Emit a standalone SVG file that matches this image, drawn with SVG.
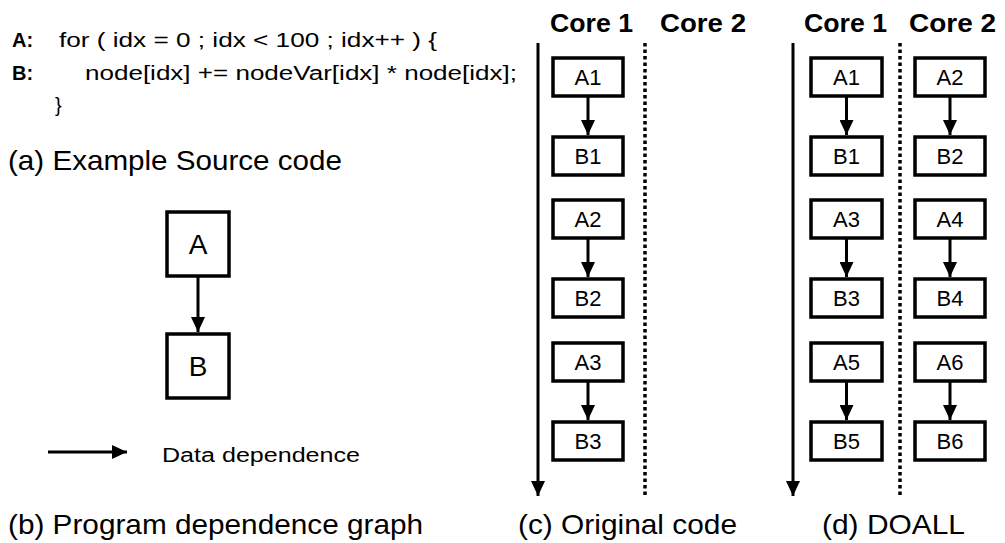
<svg xmlns="http://www.w3.org/2000/svg" width="1005" height="543" viewBox="0 0 1005 543">
<style>
  text { font-family: "Liberation Sans", Arial, sans-serif; fill: #000; }
  .code { font-size: 20px; }
  .lbl { font-weight: bold; font-size: 20px; }
  .cap { font-size: 28px; }
  .hdr { font-size: 26px; font-weight: bold; }
  .box { fill: #fff; stroke: #000; stroke-width: 3.5; }
  .bt { font-size: 22px; text-anchor: middle; }
  .big { font-size: 28px; text-anchor: middle; }
  .edge { stroke: #000; stroke-width: 3; fill: none; }
  .dot { stroke: #000; stroke-width: 3.5; stroke-dasharray: 3.5 3; fill: none; }
</style>
<defs>
  <marker id="ah" viewBox="0 0 15 14" refX="15" refY="7" markerWidth="15" markerHeight="14" orient="auto" markerUnits="userSpaceOnUse">
    <path d="M0,0 L15,7 L0,14 z" fill="#000"/>
  </marker>
</defs>
<rect width="1005" height="543" fill="#fff"/>

<g id="source-code">
  <text class="lbl" x="12" y="47">A:</text>
  <text class="code" x="59" y="47" textLength="378" lengthAdjust="spacingAndGlyphs">for ( idx = 0 ; idx &lt; 100 ; idx++ ) {</text>
  <text class="lbl" x="12" y="80">B:</text>
  <text class="code" x="85" y="80" textLength="432" lengthAdjust="spacingAndGlyphs">node[idx] += nodeVar[idx] * node[idx];</text>
  <text class="code" x="55" y="112">}</text>
  <text class="cap" x="8" y="170" textLength="334" lengthAdjust="spacingAndGlyphs">(a) Example Source code</text>
</g>

<g id="pdg-A">
  <rect class="box" x="167" y="212" width="62" height="64"/>
  <text class="big" x="198" y="254">A</text>
</g>
<g id="pdg-B">
  <rect class="box" x="167" y="334" width="62" height="64"/>
  <text class="big" x="198" y="376">B</text>
</g>
<g id="legend">
  <line class="edge" x1="48" y1="452" x2="127" y2="452" marker-end="url(#ah)"/>
  <text class="code" x="162" y="462" font-size="22" textLength="198" lengthAdjust="spacingAndGlyphs">Data dependence</text>
</g>
<text class="cap" x="8" y="534" textLength="415" lengthAdjust="spacingAndGlyphs">(b) Program dependence graph</text>

<!-- (c) Original code -->
<text class="hdr" x="550" y="32" textLength="83" lengthAdjust="spacingAndGlyphs">Core 1</text>
<text class="hdr" x="660" y="32" textLength="86" lengthAdjust="spacingAndGlyphs">Core 2</text>
<g id="c-A1"><rect class="box" x="553" y="58" width="70" height="38"/><text class="bt" x="588" y="85">A1</text></g>
<g id="c-B1"><rect class="box" x="553" y="137" width="70" height="38"/><text class="bt" x="588" y="164">B1</text></g>
<g id="c-A2"><rect class="box" x="553" y="200" width="70" height="38"/><text class="bt" x="588" y="227">A2</text></g>
<g id="c-B2"><rect class="box" x="553" y="279" width="70" height="38"/><text class="bt" x="588" y="306">B2</text></g>
<g id="c-A3"><rect class="box" x="553" y="343" width="70" height="38"/><text class="bt" x="588" y="370">A3</text></g>
<g id="c-B3"><rect class="box" x="553" y="422" width="70" height="38"/><text class="bt" x="588" y="449">B3</text></g>
<text class="cap" x="518" y="534" textLength="219" lengthAdjust="spacingAndGlyphs">(c) Original code</text>

<!-- (d) DOALL -->
<text class="hdr" x="804" y="32" textLength="83" lengthAdjust="spacingAndGlyphs">Core 1</text>
<text class="hdr" x="909" y="32" textLength="87" lengthAdjust="spacingAndGlyphs">Core 2</text>
<g id="d-A1"><rect class="box" x="811" y="58" width="71" height="38"/><text class="bt" x="846.5" y="85">A1</text></g>
<g id="d-B1"><rect class="box" x="811" y="137" width="71" height="38"/><text class="bt" x="846.5" y="164">B1</text></g>
<g id="d-A3"><rect class="box" x="811" y="200" width="71" height="38"/><text class="bt" x="846.5" y="227">A3</text></g>
<g id="d-B3"><rect class="box" x="811" y="279" width="71" height="38"/><text class="bt" x="846.5" y="306">B3</text></g>
<g id="d-A5"><rect class="box" x="811" y="343" width="71" height="38"/><text class="bt" x="846.5" y="370">A5</text></g>
<g id="d-B5"><rect class="box" x="811" y="422" width="71" height="38"/><text class="bt" x="846.5" y="449">B5</text></g>
<g id="d-A2"><rect class="box" x="915" y="58" width="70" height="38"/><text class="bt" x="950" y="85">A2</text></g>
<g id="d-B2"><rect class="box" x="915" y="137" width="70" height="38"/><text class="bt" x="950" y="164">B2</text></g>
<g id="d-A4"><rect class="box" x="915" y="200" width="70" height="38"/><text class="bt" x="950" y="227">A4</text></g>
<g id="d-B4"><rect class="box" x="915" y="279" width="70" height="38"/><text class="bt" x="950" y="306">B4</text></g>
<g id="d-A6"><rect class="box" x="915" y="343" width="70" height="38"/><text class="bt" x="950" y="370">A6</text></g>
<g id="d-B6"><rect class="box" x="915" y="422" width="70" height="38"/><text class="bt" x="950" y="449">B6</text></g>
<text class="cap" x="822" y="534" textLength="143" lengthAdjust="spacingAndGlyphs">(d) DOALL</text>

<g id="connectors">
  <line class="edge" x1="198" y1="277" x2="198" y2="332" marker-end="url(#ah)"/>
  <line class="edge" x1="538" y1="43" x2="538" y2="496" marker-end="url(#ah)"/>
  <line class="dot" x1="645" y1="43" x2="645" y2="496"/>
  <line class="edge" x1="588" y1="97" x2="588" y2="135" marker-end="url(#ah)"/>
  <line class="edge" x1="588" y1="239" x2="588" y2="277" marker-end="url(#ah)"/>
  <line class="edge" x1="588" y1="382" x2="588" y2="420" marker-end="url(#ah)"/>
  <line class="edge" x1="793" y1="43" x2="793" y2="496" marker-end="url(#ah)"/>
  <line class="dot" x1="900" y1="43" x2="900" y2="496"/>
  <line class="edge" x1="846.5" y1="97" x2="846.5" y2="135" marker-end="url(#ah)"/>
  <line class="edge" x1="846.5" y1="239" x2="846.5" y2="277" marker-end="url(#ah)"/>
  <line class="edge" x1="846.5" y1="382" x2="846.5" y2="420" marker-end="url(#ah)"/>
  <line class="edge" x1="950" y1="97" x2="950" y2="135" marker-end="url(#ah)"/>
  <line class="edge" x1="950" y1="239" x2="950" y2="277" marker-end="url(#ah)"/>
  <line class="edge" x1="950" y1="382" x2="950" y2="420" marker-end="url(#ah)"/>
</g>
</svg>
